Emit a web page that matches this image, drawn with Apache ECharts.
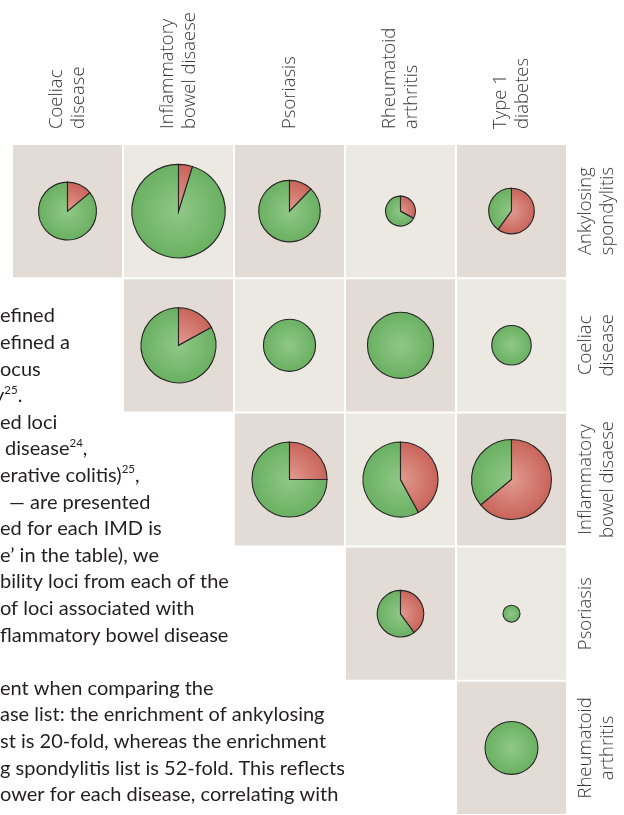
<!DOCTYPE html>
<html>
<head>
<meta charset="utf-8">
<script src="https://cdn.jsdelivr.net/npm/echarts@6/dist/echarts.min.js"></script>
<style>
  html, body { margin: 0; padding: 0; background: #ffffff; }
  #chart { width: 624px; height: 815px; }
</style>
</head>
<body>
<div id="chart"></div>
<script>
// Column and row diseases of the overlap matrix
const colLabels = ['Coeliac\ndisease', 'Inflammatory\nbowel disaese', 'Psoriasis', 'Rheumatoid\narthritis', 'Type 1\ndiabetes'];
const rowLabels = ['Ankylosing\nspondylitis', 'Coeliac\ndisease', 'Inflammatory\nbowel disaese', 'Psoriasis', 'Rheumatoid\narthritis'];

// One pie per disease pair: row index, column index, relative number of shared loci, red share
const pieRow = [0, 0, 0, 0, 0, 1, 1, 1, 1, 2, 2, 2, 3, 3, 4];
const pieCol = [0, 1, 2, 3, 4, 1, 2, 3, 4, 2, 3, 4, 3, 4, 4];
const sharedLoci = [11.6, 30.2, 13.1, 3.1, 7.2, 19.5, 9.4, 15.1, 5.4, 19.5, 19.5, 22.1, 7.5, 1.0, 9.7];
const redShare = [0.14, 0.048, 0.122, 0.33, 0.60, 0.17, 0, 0, 0, 0.25, 0.42, 0.64, 0.40, 0, 0];

// Body text running beside the matrix
const bodyLines = [
  'efined',
  'efined a',
  'ocus',
  'y{sup|25}.',
  'ed loci',
  ' disease{sup|24},',
  'erative colitis){sup|25},',
  ' \u2014 are presented',
  'ed for each IMD is',
  'e\u2019 in the table), we',
  'bility loci from each of the',
  'of loci associated with',
  'flammatory bowel disease',
  '',
  'ent when comparing the',
  'ase list: the enrichment of ankylosing',
  'st is 20-fold, whereas the enrichment',
  'g spondylitis list is 52-fold. This reflects',
  'ower for each disease, correlating with'
];

const labelFont = '"Open Sans", Lato, sans-serif';
const bodyFont = 'Lato, "Open Sans", sans-serif';

const cellData = [];
for (let r = 0; r < rowLabels.length; r++) {
  for (let c = r; c < colLabels.length; c++) cellData.push([c, r]);
}
const pieData = pieRow.map((r, i) => [pieCol[i], r, sharedLoci[i], redShare[i]]);

// Pie area proportional to the number of shared loci
const radiusOf = v => 8.5 * Math.sqrt(v);

function radial(cx, cy, r, inner, outer) {
  return {
    type: 'radial', x: cx, y: cy, r: r, global: true,
    colorStops: [{ offset: 0, color: inner }, { offset: 1, color: outer }]
  };
}

const bodyGraphics = bodyLines.map((t, i) => ({
  type: 'text',
  x: t.startsWith('y{') ? -6 : (t.startsWith(' \u2014') ? 4 : 0),
  y: 328 + i * 26.6,
  silent: true,
  style: {
    text: t,
    fill: '#231f20',
    font: '20px ' + bodyFont,
    verticalAlign: 'bottom',
    lineHeight: 24,
    rich: {
      sup: { fontSize: 11.5, fontFamily: bodyFont, fill: '#231f20', verticalAlign: 'top', lineHeight: 11, padding: [0, 0, 10, 0] }
    }
  }
}));

const chart = echarts.init(document.getElementById('chart'), null, { renderer: 'canvas' });
chart.setOption({
  backgroundColor: '#ffffff',
  animation: false,
  grid: { left: 12, top: 144, width: 555, height: 675 },
  xAxis: {
    type: 'category',
    position: 'top',
    data: colLabels,
    axisLine: { show: false },
    axisTick: { show: false },
    splitLine: { show: false },
    axisLabel: {
      interval: 0, rotate: -90, margin: 15,
      fontFamily: labelFont, fontWeight: 300, fontSize: 18.5, lineHeight: 22, color: '#3a3a3a'
    }
  },
  yAxis: {
    type: 'category',
    position: 'right',
    inverse: true,
    data: rowLabels,
    axisLine: { show: false },
    axisTick: { show: false },
    splitLine: { show: false },
    axisLabel: {
      interval: 0, rotate: 90, margin: 8,
      fontFamily: labelFont, fontWeight: 300, fontSize: 18.5, lineHeight: 22, color: '#3a3a3a'
    }
  },
  graphic: bodyGraphics,
  series: [
    {
      // shaded matrix cells
      type: 'custom',
      silent: true,
      data: cellData,
      renderItem: function (params, api) {
        const c = api.coord([api.value(0), api.value(1)]);
        const s = api.size([1, 1]);
        const dark = (api.value(0) - api.value(1)) % 2 === 0;
        return {
          type: 'rect',
          shape: { x: c[0] - s[0] / 2 + 1, y: c[1] - s[1] / 2 + 1, width: s[0] - 2, height: s[1] - 2 },
          style: { fill: dark ? '#e3dbd5' : '#ece9e3' }
        };
      }
    },
    {
      // overlap pies
      type: 'custom',
      silent: true,
      data: pieData,
      renderItem: function (params, api) {
        const c = api.coord([api.value(0), api.value(1)]);
        const r = radiusOf(api.value(2));
        const share = api.value(3);
        const green = radial(c[0], c[1], r, '#90c887', '#6ab062');
        const red = radial(c[0], c[1], r, '#e19b90', '#c9645a');
        const stroke = { stroke: '#262626', lineWidth: 1.1 };
        const start = -Math.PI / 2;
        const children = [];
        if (share > 0) {
          const mid = start + share * Math.PI * 2;
          children.push({
            type: 'sector',
            shape: { cx: c[0], cy: c[1], r0: 0, r: r, startAngle: mid, endAngle: start + Math.PI * 2, clockwise: true },
            style: Object.assign({ fill: green }, stroke)
          });
          children.push({
            type: 'sector',
            shape: { cx: c[0], cy: c[1], r0: 0, r: r, startAngle: start, endAngle: mid, clockwise: true },
            style: Object.assign({ fill: red }, stroke)
          });
        } else {
          children.push({
            type: 'circle',
            shape: { cx: c[0], cy: c[1], r: r },
            style: Object.assign({ fill: green }, stroke)
          });
        }
        return { type: 'group', children: children };
      }
    }
  ]
});
</script>
</body>
</html>
